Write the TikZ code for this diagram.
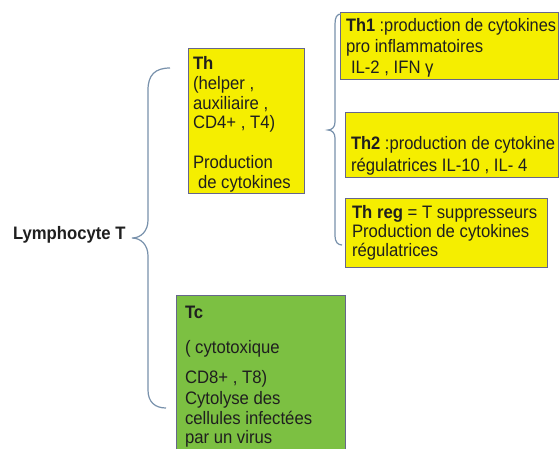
\documentclass[tikz,border=0pt]{standalone}
\usepackage{fontspec}
\usepackage{graphicx}
\setmainfont{Liberation Sans}
\newcommand{\vstretch}[1]{\scalebox{1}[1.08]{#1}}
\begin{document}
\begin{tikzpicture}[x=1pt,y=-1pt,
  every node/.style={inner sep=0pt, outer sep=0pt},
  txt/.style={anchor=base west, text=black!88, font=\fontsize{16.7}{19.8}\selectfont},
  boxshape/.style={draw=black!75!blue!60, line width=0.9pt, anchor=north west},
  ybox/.style={boxshape, fill=yelfill},
  gbox/.style={boxshape, fill=grnfill},
  bracestyle/.style={draw=braceblue, line width=1.2pt}]
\definecolor{yelfill}{RGB}{245,238,0}
\definecolor{grnfill}{RGB}{124,192,66}
\definecolor{braceblue}{RGB}{120,145,172}
\useasboundingbox (0,0) rectangle (559,448);
\fill[white] (0,0) rectangle (559,448);

% boxes
\node[ybox, minimum width=116pt, minimum height=145pt] (th) at (188,48) {};
\node[gbox, minimum width=169pt, minimum height=170pt] (tc) at (176,295) {};
\node[ybox, minimum width=218pt, minimum height=67pt] (th1) at (340,12) {};
\node[ybox, minimum width=213pt, minimum height=65pt] (th2) at (345,112) {};
\node[ybox, minimum width=202pt, minimum height=69pt] (threg) at (345,198) {};

% Lymphocyte T
\node[txt, font=\fontsize{16.7}{19.8}\selectfont\bfseries] (lt) at (13,239) {\vstretch{Lymphocyte T}};

% Th text
\node[txt] (th-a) at (193,69) {\vstretch{\textbf{Th}}};
\node[txt] (th-b) at (193,89) {\vstretch{(helper ,}};
\node[txt] (th-c) at (193,109) {\vstretch{auxiliaire ,}};
\node[txt] (th-d) at (193,128) {\vstretch{CD4+ , T4)}};
\node[txt] (th-e) at (193,168) {\vstretch{Production}};
\node[txt] (th-f) at (198,188) {\vstretch{de cytokines}};

% Tc text
\node[txt] (tc-a) at (185,318) {\vstretch{\textbf{Tc}}};
\node[txt] (tc-b) at (185,353) {\vstretch{( cytotoxique}};
\node[txt] (tc-c) at (185,383) {\vstretch{CD8+ , T8)}};
\node[txt] (tc-d) at (185,404) {\vstretch{Cytolyse des}};
\node[txt] (tc-e) at (185,424) {\vstretch{cellules infectées}};
\node[txt] (tc-f) at (185,443) {\vstretch{par un virus}};

% Th1 text
\node[txt] (th1-a) at (346,31) {\scalebox{0.98}[1.08]{\textbf{Th1} :production de cytokines}};
\node[txt] (th1-b) at (346,52) {\vstretch{pro inflammatoires}};
\node[txt] (th1-c) at (351,73) {\vstretch{IL-2 , IFN γ}};

% Th2 text
\node[txt] (th2-a) at (351,149) {\scalebox{0.99}[1.08]{\textbf{Th2} :production de cytokine}};
\node[txt] (th2-b) at (351,171) {\vstretch{régulatrices IL-10 , IL- 4}};

% Th reg text
\node[txt] (threg-a) at (352,218) {\vstretch{\textbf{Th reg} = T suppresseurs}};
\node[txt] (threg-b) at (352,237) {\vstretch{Production de cytokines}};
\node[txt] (threg-c) at (352,256) {\vstretch{régulatrices}};

% left brace
\coordinate (lbtop) at (170,68);
\coordinate (lbtip) at (132,238);
\coordinate (lbbot) at (166,408);
\draw[bracestyle] (lbtop) .. controls (155,68) and (148,75) .. (148,90)
  -- (148,220) .. controls (148,231) and (141,238) .. (lbtip)
  .. controls (141,238) and (148,245) .. (148,256)
  -- (148,390) .. controls (148,402) and (155,408) .. (lbbot);

% right brace
\coordinate (rbtop) at (341,14);
\coordinate (rbtip) at (328,130);
\coordinate (rbbot) at (342,245);
\draw[bracestyle] (rbtop) .. controls (337,14) and (335,17) .. (335,24)
  -- (335,122) .. controls (335,127) and (332,130) .. (rbtip)
  .. controls (332,130) and (335,133) .. (335,138)
  -- (335,236) .. controls (335,242) and (338,245) .. (rbbot);
\end{tikzpicture}
\end{document}
